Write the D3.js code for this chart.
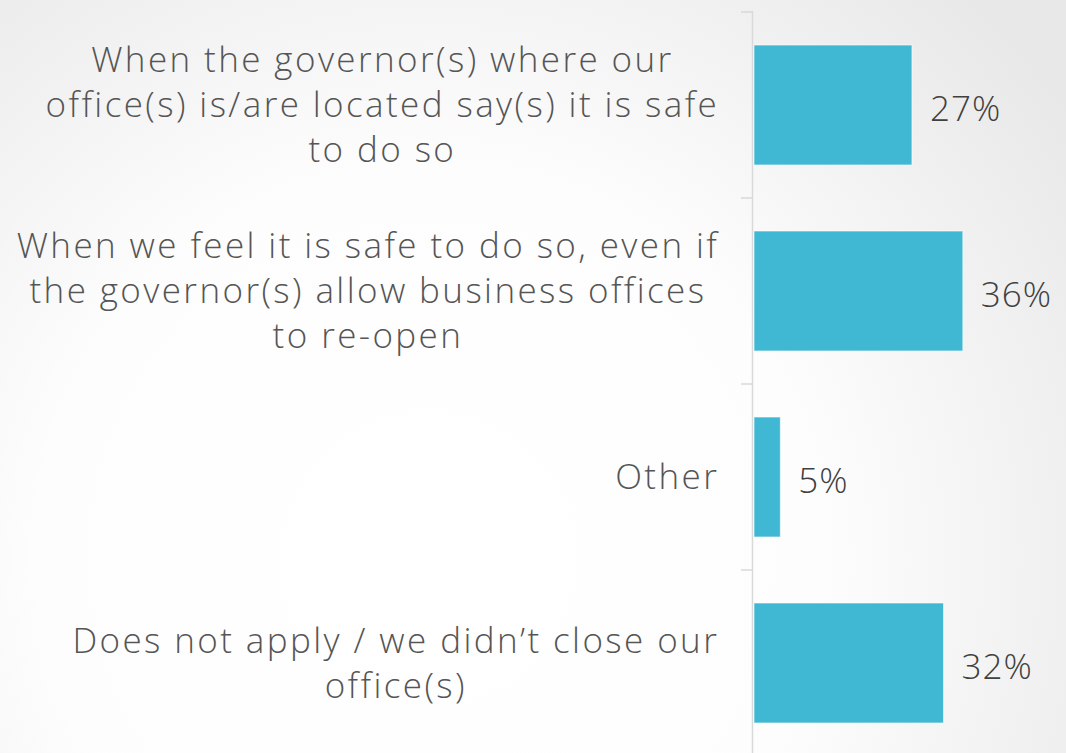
<!DOCTYPE html>
<html>
<head>
<meta charset="utf-8">
<script src="https://cdn.jsdelivr.net/npm/d3@7"></script>
<style>
  html, body { margin: 0; padding: 0; background: #fff; }
  svg { display: block; }
</style>
</head>
<body>
<svg id="chart" width="1066" height="753"></svg>
<script>
// answers, top to bottom (label lines as broken in the picture)
const categories = [
  ["When the governor(s) where our", "office(s) is/are located say(s) it is safe", "to do so"],
  ["When we feel it is safe to do so, even if", "the governor(s) allow business offices", "to re-open"],
  ["Other"],
  ["Does not apply / we didn\u2019t close our", "office(s)"]
];
// share of respondents, %
const values = [27.0, 35.7, 4.5, 32.4];
const keys = ["governor", "feelSafe", "other", "notApply"];

const width = 1066, height = 753;
const font = "'Open Sans', Lato, sans-serif";
const svg = d3.select("#chart");

// background wash
const defs = svg.append("defs");
const grad = defs.append("radialGradient")
  .attr("id", "bg")
  .attr("gradientUnits", "userSpaceOnUse")
  .attr("cx", 430).attr("cy", 560).attr("r", 780);
grad.append("stop").attr("offset", "0").attr("stop-color", "#ffffff");
grad.append("stop").attr("offset", "0.5").attr("stop-color", "#fdfdfd");
grad.append("stop").attr("offset", "1").attr("stop-color", "#e8e8e8");
svg.append("rect").attr("width", width).attr("height", height).attr("fill", "url(#bg)");

const y = d3.scaleBand()
  .domain(keys)
  .range([12, 756])
  .paddingInner(0.355)
  .paddingOuter(0.1775);

const x = d3.scaleLinear()
  .domain([0, 40])
  .range([754, 754 + 40 * 5.85]);

const data = keys.map((k, i) => ({ key: k, lines: categories[i], value: values[i] }));

// axis line + boundary ticks
const axis = svg.append("g").attr("stroke", "#d9d9d9").attr("stroke-width", 1.5);
axis.append("line")
  .attr("x1", 752.5).attr("x2", 752.5)
  .attr("y1", y.range()[0] - 1).attr("y2", height);
const bounds = keys.map(k => y(k) - y.step() * y.paddingOuter());
axis.selectAll("line.tick")
  .data(bounds)
  .join("line")
  .attr("class", "tick")
  .attr("x1", 741).attr("x2", 752.5)
  .attr("y1", d => d).attr("y2", d => d);

// bars
svg.append("g")
  .selectAll("rect")
  .data(data)
  .join("rect")
  .attr("x", x(0))
  .attr("y", d => y(d.key))
  .attr("width", d => x(d.value) - x(0))
  .attr("height", y.bandwidth())
  .attr("fill", "#41b8d3")
  .attr("stroke", "#ffffff")
  .attr("stroke-opacity", 0.6)
  .attr("stroke-width", 1);

// value labels
svg.append("g")
  .selectAll("text")
  .data(data)
  .join("text")
  .attr("x", d => x(d.value) + 18)
  .attr("y", d => y(d.key) + y.bandwidth() / 2 + 16)
  .attr("font-family", font)
  .attr("font-weight", 300)
  .attr("font-size", 35)
  .attr("letter-spacing", 1)
  .attr("fill", "#404040")
  .text(d => Math.round(d.value) + "%");

// category labels: block right-aligned, lines centered inside it
const lineH = 45, labelRight = 718, spacing = 2.4;
const labels = svg.append("g")
  .selectAll("text")
  .data(data)
  .join("text")
  .attr("font-family", font)
  .attr("font-weight", 300)
  .attr("font-size", 35)
  .attr("letter-spacing", spacing)
  .attr("fill", "#555555")
  .attr("text-anchor", "middle");

labels.each(function (d) {
  const t = d3.select(this);
  const cy = y(d.key) + y.bandwidth() / 2;
  const n = d.lines.length;
  const spans = t.selectAll("tspan")
    .data(d.lines)
    .join("tspan")
    .attr("y", (l, i) => cy + 12 + (i - (n - 1) / 2) * lineH)
    .text(l => l);
  let w = 0;
  spans.each(function () { w = Math.max(w, this.getComputedTextLength()); });
  // trailing letter-spacing is not ink
  spans.attr("x", labelRight + spacing / 2 - w / 2);
});
</script>
</body>
</html>
